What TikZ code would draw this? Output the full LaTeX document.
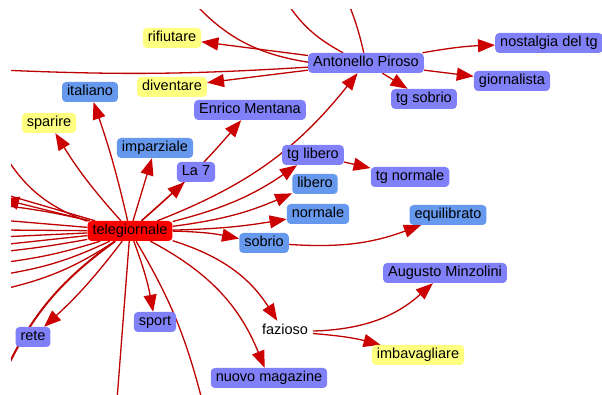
\documentclass[tikz,border=0pt]{standalone}
\usepackage{fontspec}
\setmainfont{Liberation Sans}
\usetikzlibrary{arrows.meta,backgrounds}
\definecolor{lineRed}{RGB}{190,0,0}
\definecolor{tipRed}{RGB}{204,0,0}
\definecolor{hubRed}{RGB}{255,0,0}
\definecolor{termYellow}{RGB}{255,255,128}
\definecolor{termBlue}{RGB}{102,153,238}
\definecolor{termPurple}{RGB}{128,128,248}
\tikzset{
  term/.style={rounded corners=4pt, inner xsep=5pt, inner ysep=0pt, text height=10.5pt, text depth=3pt, minimum height=20pt, font=\fontsize{14.5}{16}\selectfont},
  yellowterm/.style={term, fill=termYellow},
  blueterm/.style={term, fill=termBlue},
  purpleterm/.style={term, fill=termPurple},
  link/.style={draw=lineRed, line width=1.3pt},
  arrowlink/.style={link, -{Triangle[length=17pt,width=13pt,color=tipRed]}}
}
\begin{document}
\begin{tikzpicture}[x=1pt,y=1pt]
\useasboundingbox (0,0) rectangle (602,395);
\node[term, fill=hubRed] (tele) at (130,164) {telegiornale};
\node[yellowterm] (rifiutare) at (172,357) {rifiutare};
\node[yellowterm] (diventare) at (172,308) {diventare};
\node[blueterm] (italiano) at (90,303) {italiano};
\node[yellowterm] (sparire) at (49,272) {sparire};
\node[purpleterm] (mentana) at (250,285) {Enrico Mentana};
\node[blueterm] (imparziale) at (155,247) {imparziale};
\node[purpleterm] (la7) at (196,223) {La 7};
\node[purpleterm] (piroso) at (366,332) {Antonello Piroso};
\node[purpleterm] (nostalgia) at (549,352) {nostalgia del tg};
\node[purpleterm] (giornalista) at (512,314) {giornalista};
\node[purpleterm] (tgsobrio) at (424,296) {tg sobrio};
\node[purpleterm] (tglibero) at (313,240) {tg libero};
\node[purpleterm] (tgnormale) at (410,218) {tg normale};
\node[blueterm] (libero) at (315,211) {libero};
\node[blueterm] (normale) at (318,181) {normale};
\node[blueterm] (sobrio) at (264,152) {sobrio};
\node[blueterm] (equilibrato) at (448,180) {equilibrato};
\node[purpleterm] (minzolini) at (445,122) {Augusto Minzolini};
\node[term] (fazioso) at (285,64) {fazioso};
\node[yellowterm] (imbavagliare) at (418,40) {imbavagliare};
\node[purpleterm] (magazine) at (269,17) {nuovo magazine};
\node[purpleterm] (sport) at (155,73) {sport};
\node[purpleterm] (rete) at (33,58) {rete};
\begin{scope}[on background layer]
\fill[white] (0,0) rectangle (602,395);
\clip (11,0) rectangle (602,385);
\coordinate (topA) at (187,400);
\coordinate (topB) at (282,400);
\coordinate (topC) at (345,400);
\coordinate (leftTop) at (0,325);
\coordinate (leftTip) at (2,196);
\coordinate (leftLow) at (0,12);
\coordinate (bottomA) at (117,-5);
\coordinate (bottomB) at (202,-5);
\draw[link] (topA) to[bend right=20] (piroso);
\draw[link] (topB) to[bend right=15] (piroso);
\draw[link] (topC) to[bend left=5] (piroso);
\draw[link] (leftTop) to[bend right=3] (piroso);
\draw[arrowlink] (piroso) to (rifiutare);
\draw[arrowlink] (piroso) to (diventare);
\draw[arrowlink] (piroso) to[bend left=4] (nostalgia);
\draw[arrowlink] (piroso) to (giornalista);
\draw[arrowlink] (piroso) to (tgsobrio);
\draw[arrowlink] (tele) to[bend left=5] (sparire);
\draw[arrowlink] (tele) to[bend right=3] (italiano);
\draw[arrowlink] (tele) to (imparziale);
\draw[arrowlink] (tele) to (la7);
\draw[arrowlink] (tele) to[bend right=4] (mentana);
\draw[arrowlink] (tele) to[bend right=15] (piroso);
\draw[arrowlink] (tele) to[bend right=10] (tglibero);
\draw[arrowlink] (tele) to[bend right=8] (libero);
\draw[arrowlink] (tele) to[bend right=4] (normale);
\draw[arrowlink] (tele) to[bend left=5] (sobrio);
\draw[arrowlink] (sobrio) to[bend right=12] (equilibrato);
\draw[arrowlink] (tglibero) to (tgnormale);
\draw[arrowlink] (tele) to[bend left=5] (sport);
\draw[arrowlink] (tele) to[bend left=5] (rete);
\draw[arrowlink] (tele) to[bend left=20] (fazioso);
\draw[arrowlink] (tele) to[bend left=20] (magazine);
\draw[arrowlink] (fazioso) to[bend right=20] (minzolini);
\draw[arrowlink] (fazioso) to[bend left=5] (imbavagliare);
\draw[arrowlink] (tele) to (leftTip);
\draw[link, line width=2pt] (tele) to[bend right=15] (leftLow);
\draw[link] (tele) to (bottomA);
\draw[link] (tele) to[bend left=8] (bottomB);
\foreach \y/\b [count=\i] in {248/20,202/0,190/-3,175/0,165/0,158/0,150/0,143/2,132/5,120/8,105/10} {
  \coordinate (left\i) at (0,\y);
  \draw[link] (tele) to[bend left=\b] (left\i);
}
\end{scope}
\end{tikzpicture}
\end{document}
